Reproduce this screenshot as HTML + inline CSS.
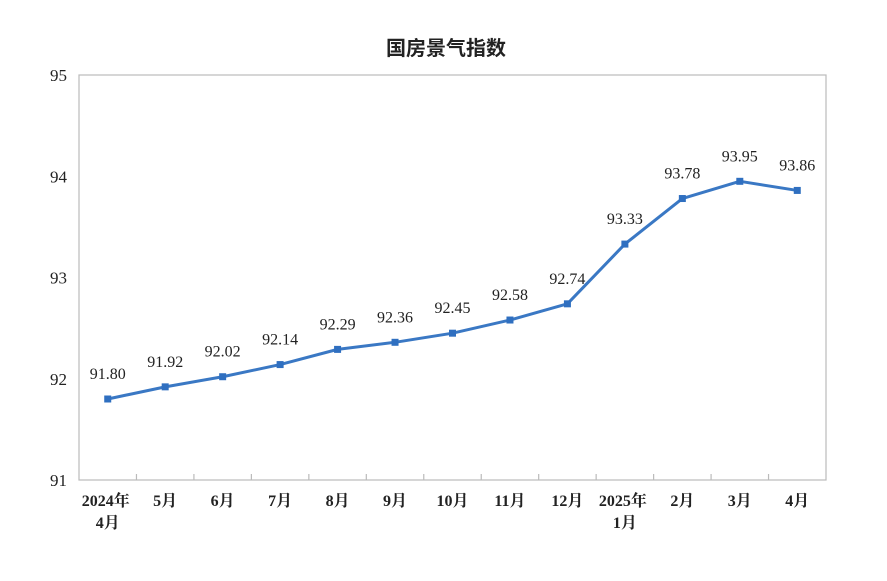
<!DOCTYPE html>
<html><head><meta charset="utf-8"><style>
body{margin:0;background:#fff;width:887px;height:576px;overflow:hidden}
svg text{font-family:"Liberation Serif","Noto Serif CJK SC",serif;fill:#222}
</style></head><body>
<svg width="887" height="576">
<text x="446" y="55" text-anchor="middle" font-size="20" font-weight="bold" style="font-family:'Liberation Sans','Noto Sans CJK SC',sans-serif">国房景气指数</text>
<rect x="79" y="75" width="747" height="405" fill="none" stroke="#bbb" stroke-width="1.2"/>
<g id="yaxis"></g>
<g id="xaxis"></g>
<g id="series"></g>
</svg>
<script>
const categories1=["2024年","5月","6月","7月","8月","9月","10月","11月","12月","2025年","2月","3月","4月"];
const categories2=["4月","","","","","","","","","1月","","",""];
const values=[91.80,91.92,92.02,92.14,92.29,92.36,92.45,92.58,92.74,93.33,93.78,93.95,93.86];
const labels=["91.80","91.92","92.02","92.14","92.29","92.36","92.45","92.58","92.74","93.33","93.78","93.95","93.86"];
const yTicks=[91,92,93,94,95];
const NS="http://www.w3.org/2000/svg";
const L=79,R=826,T=75,B=480,yMin=91,yMax=95;
const bw=(R-L)/categories1.length;
const x=i=>L+bw*(i+0.5);
const y=v=>B-(v-yMin)/(yMax-yMin)*(B-T);
function mk(tag,attrs,parent,txt){const e=document.createElementNS(NS,tag);for(const k in attrs)e.setAttribute(k,attrs[k]);if(txt!==undefined)e.textContent=txt;parent.appendChild(e);return e;}
const ya=document.getElementById('yaxis'),xa=document.getElementById('xaxis'),se=document.getElementById('series');
yTicks.forEach(t=>{const e=mk('text',{x:67,y:y(t)+6,'text-anchor':'end','font-size':17},ya,t);

});
categories1.forEach((c,i)=>{
 if(i>0){const tk=mk('line',{x1:L+bw*i,x2:L+bw*i,y1:B,y2:B-6,stroke:'#bbb','stroke-width':1.2},xa);
 
 }
 const t=mk('text',{x:x(i)+(categories2[i]?-2:0),y:506,'text-anchor':'middle','font-size':16,'font-weight':'bold'},xa,c);
 
 
 if(categories2[i]){const t2=mk('text',{x:x(i),y:528,'text-anchor':'middle','font-size':16,'font-weight':'bold'},xa,categories2[i]);
 
 }
});
const pts=values.map((v,i)=>x(i)+','+y(v)).join(' ');
const pl=mk('polyline',{points:pts,fill:'none',stroke:'#3a78c4','stroke-width':3,'stroke-linejoin':'round'},se);


values.forEach((v,i)=>{
 const m=mk('rect',{x:x(i)-3.5,y:y(v)-3.5,width:7,height:7,fill:'#2f6fc0'},se);
 
 
 const lb=mk('text',{x:x(i),y:y(v)-20,'text-anchor':'middle','font-size':16},se,labels[i]);
 
 
});
</script>
</body></html>
